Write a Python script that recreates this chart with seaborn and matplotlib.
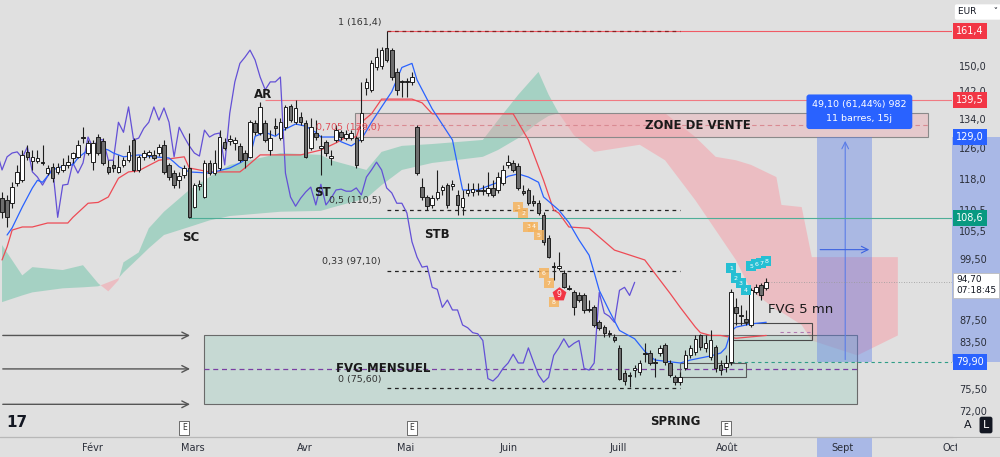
import numpy as np
import pandas as pd
import seaborn as sns
import matplotlib
matplotlib.use("Agg")
from matplotlib import pyplot as plt
from matplotlib.patches import Rectangle
from matplotlib.ticker import NullLocator

# daily candles, bar index = position in the list
opens = [113.2, 112.7, 112.0, 116.9, 117.6, 124.9, 122.5, 122.5, 122.2, 119.4,
         121.0, 119.7, 120.2, 121.5, 123.3, 123.6, 128.9, 124.6, 122.2, 128.9,
         127.8, 121.0, 121.5, 119.7, 121.5, 122.7, 128.1, 120.2, 123.6, 124.1,
         124.1, 124.6, 126.8, 121.5, 119.4, 117.6, 118.9, 120.7, 111.1, 116.2,
         113.5, 122.0, 119.4, 120.7, 127.6, 127.8, 127.3, 126.5, 124.6, 123.6,
         132.8, 129.9, 132.8, 125.4, 131.9, 128.6, 131.6, 137.7, 133.0, 134.5,
         132.8, 125.9, 130.0, 126.0, 127.6, 123.3, 128.1, 130.2, 128.6, 128.6,
         128.6, 128.1, 143.1, 142.5, 149.4, 150.0, 155.7, 155.0, 148.0, 145.2,
         145.2, 144.9, 131.6, 115.9, 113.5, 111.6, 113.2, 115.2, 116.4, 116.2,
         114.0, 111.1, 114.5, 114.7, 115.2, 115.2, 114.5, 115.7, 115.2, 116.9,
         121.5, 122.0, 121.2, 114.9, 115.2, 112.5, 112.0, 109.2, 104.1, 98.0,
         97.6, 96.5, 93.5, 92.7, 92.1, 92.1, 89.5, 89.8, 87.0, 86.1,
         85.1, 84.4, 82.4, 78.1, 77.8, 78.6, 78.3, 81.5, 81.5, 80.0,
         81.5, 82.9, 79.8, 77.4, 76.6, 78.9, 81.1, 81.7, 84.6, 82.4,
         80.8, 82.5, 79.4, 79.1, 80.0, 89.8, 88.3, 87.6, 86.5, 92.7,
         94.1, 93.5]
highs = [114.7, 114.0, 117.1, 121.5, 125.4, 126.8, 125.4, 125.4, 126.8, 121.5,
         122.0, 122.0, 123.3, 124.1, 124.9, 128.1, 131.6, 128.1, 128.1, 129.7,
         128.6, 122.7, 122.7, 124.1, 123.6, 126.8, 128.6, 124.1, 125.4, 125.4,
         125.4, 127.0, 128.1, 122.0, 120.2, 119.7, 121.5, 129.9, 116.9, 117.6,
         122.7, 122.7, 125.4, 130.8, 128.6, 129.4, 128.9, 127.3, 125.4, 133.6,
         133.6, 138.8, 133.6, 130.8, 134.2, 134.2, 138.0, 138.3, 139.4, 136.0,
         133.6, 134.2, 133.6, 129.4, 128.1, 125.4, 132.2, 130.8, 130.8, 130.8,
         129.1, 144.9, 146.1, 151.8, 155.7, 156.0, 161.4, 155.7, 149.3, 145.5,
         146.1, 148.0, 132.2, 118.1, 114.0, 114.0, 120.2, 116.4, 116.9, 117.6,
         115.2, 115.2, 116.9, 116.9, 116.9, 116.4, 119.7, 117.6, 119.7, 121.5,
         124.1, 122.7, 122.0, 116.4, 115.7, 114.0, 112.7, 109.9, 104.7, 98.8,
         101.0, 97.2, 94.1, 93.1, 92.7, 92.5, 91.2, 90.2, 87.4, 86.5,
         85.5, 84.8, 82.9, 78.6, 78.3, 79.4, 80.3, 83.2, 82.0, 80.6,
         82.9, 83.2, 80.3, 77.8, 78.3, 82.0, 82.9, 84.6, 84.9, 84.6,
         85.5, 82.9, 80.3, 81.1, 93.3, 91.6, 90.2, 89.3, 93.5, 94.3,
         94.5, 95.5]
lows = [108.5, 106.5, 110.9, 116.2, 117.1, 122.7, 120.2, 122.0, 121.5, 118.9,
        117.1, 119.2, 119.7, 120.7, 122.0, 123.3, 127.3, 124.1, 120.2, 124.1,
        121.5, 119.2, 119.7, 119.4, 121.0, 122.2, 119.7, 119.7, 122.7, 123.3,
        122.7, 123.8, 119.2, 117.6, 115.7, 115.7, 118.1, 108.5, 110.9, 115.2,
        113.2, 118.9, 118.9, 120.2, 125.4, 126.8, 125.4, 122.2, 120.7, 123.3,
        129.4, 129.4, 127.6, 124.1, 129.4, 128.1, 130.8, 133.0, 132.5, 132.2,
        123.3, 125.4, 128.1, 118.9, 123.8, 121.5, 127.6, 128.1, 128.1, 128.1,
        120.7, 127.6, 141.0, 141.9, 148.6, 149.0, 151.1, 145.5, 141.0, 140.4,
        140.4, 144.0, 118.9, 112.7, 110.4, 110.9, 112.7, 114.0, 110.9, 115.2,
        109.2, 109.2, 113.7, 113.7, 114.0, 114.0, 113.7, 113.5, 114.5, 116.4,
        120.7, 119.7, 115.2, 114.0, 111.6, 111.3, 109.2, 102.5, 99.7, 95.1,
        97.2, 93.5, 93.1, 88.3, 90.8, 88.7, 88.9, 86.1, 85.5, 84.4,
        84.4, 83.4, 76.9, 76.1, 75.8, 77.4, 77.8, 80.0, 79.4, 77.4,
        81.0, 79.4, 77.4, 76.1, 76.1, 78.6, 80.6, 81.1, 82.0, 81.7,
        80.3, 78.3, 77.8, 78.3, 79.4, 86.5, 86.5, 86.5, 86.1, 92.3,
        91.2, 93.1]
closes = [110.0, 108.7, 115.9, 119.7, 124.1, 123.6, 123.6, 123.3, 122.0, 120.7,
          118.1, 121.0, 121.5, 122.2, 124.6, 126.8, 128.6, 127.3, 127.3, 124.6,
          122.0, 119.7, 120.7, 121.0, 122.7, 124.9, 120.2, 123.6, 124.6, 124.9,
          123.3, 126.2, 119.7, 118.4, 116.4, 118.6, 120.7, 108.7, 116.4, 116.6,
          122.0, 119.4, 122.0, 128.9, 125.9, 128.3, 128.1, 122.7, 122.7, 133.0,
          130.2, 137.4, 128.1, 128.6, 131.3, 133.0, 137.4, 133.6, 137.1, 133.0,
          123.6, 131.6, 128.9, 126.5, 124.6, 123.8, 130.8, 128.9, 129.7, 130.0,
          121.5, 135.6, 144.9, 150.7, 152.7, 155.0, 151.8, 146.4, 142.5, 144.9,
          144.9, 146.4, 119.4, 113.5, 111.3, 113.2, 114.7, 115.9, 111.6, 116.6,
          111.6, 113.2, 115.2, 115.4, 114.9, 114.9, 115.7, 114.0, 118.4, 120.2,
          122.2, 120.2, 115.7, 114.5, 112.0, 112.0, 109.7, 103.2, 99.9, 97.8,
          98.0, 93.7, 93.3, 89.8, 91.2, 89.3, 89.3, 86.5, 86.0, 85.1,
          84.9, 83.7, 77.2, 76.8, 77.6, 78.9, 79.8, 81.3, 79.8, 79.8,
          82.4, 80.0, 77.8, 76.6, 77.4, 81.1, 82.4, 84.0, 82.5, 83.2,
          83.7, 78.9, 78.6, 79.8, 92.7, 88.7, 88.1, 87.0, 93.1, 93.7,
          92.1, 94.7]

# ichimoku lines
tenkan_x = [1, 2, 4, 6, 7, 8, 10, 11, 13, 14, 15, 17, 19, 21, 22, 24, 27, 30, 33, 34,
            35, 37, 41, 45, 47, 49, 50, 52, 54, 56, 58, 60, 62, 63, 66, 67, 69, 71, 73, 75,
            77, 79, 81, 82, 85, 89, 91, 94, 98, 100, 102, 104, 106, 107, 110, 112, 114, 116, 117, 118,
            120, 122, 125, 127, 129, 131, 134, 136, 140, 142, 143, 144, 145, 148, 151]
tenkan_y = [104.7, 106.3, 111.1, 115.7, 117.6, 117.1, 120.2, 120.7, 121.5, 121.5,
            123.3, 125.4, 126.2, 125.4, 124.6, 123.6, 124.1, 123.6, 123.3, 122.2,
            121.0, 119.7, 119.4, 120.7, 122.0, 123.6, 129.1, 130.2, 129.1, 131.1,
            132.5, 131.9, 130.2, 128.9, 128.9, 127.6, 126.5, 128.3, 133.0, 137.4,
            141.9, 149.4, 150.7, 145.5, 136.8, 128.1, 115.2, 115.2, 117.1, 118.6,
            119.2, 118.4, 117.1, 113.5, 110.4, 107.5, 103.6, 100.3, 96.7, 93.1,
            89.1, 85.5, 84.0, 81.8, 80.3, 80.1, 79.8, 80.3, 81.0, 81.5,
            82.4, 85.3, 86.1, 86.7, 87.0]
kijun_x = [0, 1, 2, 4, 6, 9, 13, 14, 17, 19, 21, 23, 25, 27, 31, 36, 37, 41, 47, 48,
           51, 59, 63, 66, 68, 70, 71, 73, 75, 81, 83, 85, 101, 104, 107, 109, 110, 112, 116, 121,
           123, 127, 129, 132, 134, 137, 138, 140, 142, 145, 151]
kijun_y = [99.3, 102.1, 105.8, 106.5, 106.5, 107.4, 107.4, 108.7, 112.0, 112.2,
           113.5, 118.1, 119.7, 120.0, 122.7, 123.6, 120.7, 119.7, 119.7, 120.7,
           124.1, 124.1, 125.4, 127.3, 128.9, 128.9, 133.0, 135.4, 139.7, 139.7,
           138.6, 135.4, 135.4, 128.1, 117.6, 110.4, 109.7, 106.5, 106.2, 101.4,
           100.7, 99.3, 96.5, 92.5, 89.8, 86.1, 85.1, 84.6, 84.6, 84.1, 84.6]
cloud_x = [0, 4, 6, 12, 16, 19, 21, 23, 24, 27, 29, 32, 37, 41, 45, 52, 55, 63, 65, 72,
           75, 79, 85, 95, 98, 102, 106, 108, 110, 113, 117, 126, 131, 137, 141, 145, 148, 153, 154, 158,
           160, 169, 177]
span_a = [102.5, 96.1, 97.8, 97.2, 98.2, 94.5, 92.9, 95.1, 98.8, 100.9,
          106.2, 110.0, 115.2, 118.4, 121.5, 123.6, 124.6, 124.1, 122.7, 120.2,
          124.9, 126.5, 127.0, 128.1, 133.6, 141.0, 148.0, 141.0, 135.6, 129.4,
          124.9, 126.8, 122.7, 112.7, 105.8, 99.3, 93.1, 89.3, 88.9, 86.5,
          83.7, 81.1, 84.6]
span_b = [90.8, 92.1, 92.7, 93.5, 93.7, 93.9, 94.7, 95.5, 96.7, 99.7,
          101.8, 104.7, 106.5, 108.0, 109.0, 109.7, 110.0, 110.2, 110.9, 113.2,
          116.4, 120.2, 122.0, 123.6, 125.4, 128.6, 133.0, 134.8, 135.6, 135.6,
          135.6, 135.6, 135.6, 128.9, 123.6, 122.7, 121.5, 118.4, 111.6, 111.1,
          99.9, 99.9, 99.9]

# td sequential counts
td_sell_bars = [102, 103, 104, 105, 106, 107, 108, 109, 110]
td_sell_pos = [111.1, 109.7, 106.5, 106.5, 104.7, 96.5, 94.5, 90.8, 92.3]
td_buy_bars = [144, 145, 146, 147, 148, 149, 150, 151]
td_buy_pos = [97.6, 95.5, 94.5, 93.1, 98.0, 98.4, 98.6, 99.0]
earnings_bars = [36, 81, 143]

fib_levels = [161.4, 110.5, 97.1, 75.6]
fib_labels = ['1 (161,4)', '0,5 (110,5)', '0,33 (97,10)', '0 (75,60)']

month_pos = [17.8, 37.7, 59.9, 79.8, 100.0, 121.7, 143.3, 166.0, 187.4]
month_labels = ['Févr', 'Mars', 'Avr', 'Mai', 'Juin', 'Juill', 'Août', 'Sept', 'Oct']

price_ticks = [150, 142, 134, 126, 118, 110.5, 105.5, 99.5, 87.5, 83.5, 75.5, 72]
price_labels = ['150,0', '142,0', '134,0', '126,0', '118,0', '110,5', '105,5',
                '99,50', '87,50', '83,50', '75,50', '72,00']

BG = '#e0e0e0'
sns.set_theme(style="white")
plt.rcParams['font.family'] = ['DejaVu Sans']

fig = plt.figure(figsize=(10, 4.57), dpi=100, facecolor=BG)
ax = fig.add_axes([0, 20 / 457, 0.952, 437 / 457])
ax.set_facecolor(BG)
ax.set_yscale('log')

df = pd.DataFrame({'o': opens, 'h': highs, 'l': lows, 'c': closes})
df['bar'] = np.arange(len(df))

# cloud
ca = np.array(span_a); cb = np.array(span_b)
ax.fill_between(cloud_x, ca, cb, where=ca >= cb, interpolate=True,
                color='#5fbfa0', alpha=0.45, lw=0, zorder=1)
ax.fill_between(cloud_x, ca, cb, where=ca < cb, interpolate=True,
                color='#f4a6ae', alpha=0.6, lw=0, zorder=1)

# zones
ax.add_patch(Rectangle((69.8, 128.9), 183.0 - 69.8, 135.6 - 128.9, fc='#f0a0a8', alpha=0.35,
                       ec='none', zorder=1.2))
ax.add_patch(Rectangle((69.8, 128.9), 183.0 - 69.8, 135.6 - 128.9, fill=False,
                       ec='#8a8a8a', lw=0.8, zorder=1.3))
ax.hlines(132.2, 69.8, 183.0, colors='#d98a92', lw=0.8, linestyles=(0, (4, 3)), zorder=1.4)

ax.add_patch(Rectangle((39.9, 73.1), 168.9 - 39.9, 84.6 - 73.1, fc='#9fcfc0', alpha=0.4,
                       ec='none', zorder=1.2))
ax.add_patch(Rectangle((39.9, 73.1), 168.9 - 39.9, 84.6 - 73.1, fill=False,
                       ec='#6a6a6a', lw=0.8, zorder=1.3))
ax.hlines(78.8, 39.9, 168.9, colors='#7a3fa3', lw=0.9, linestyles=(0, (4, 3)), zorder=1.4)
for lvl in [84.6, 78.8, 73.1]:
    ax.annotate('', xy=(37.7, lvl), xytext=(-0.4, lvl),
                arrowprops=dict(arrowstyle='->', color='#555555', lw=1.0), zorder=2)

# position tool
ax.add_patch(Rectangle((161.1, 79.9), 171.9 - 161.1, 129.0 - 79.9, fc='#5b7de8', alpha=0.4,
                       ec='none', zorder=1.5))
ax.annotate('', xy=(166.6, 128.6), xytext=(166.6, 79.9),
            arrowprops=dict(arrowstyle='->', color='#5b7de8', lw=0.8), zorder=2)
ax.annotate('', xy=(171.9, 101.5), xytext=(161.1, 101.5),
            arrowprops=dict(arrowstyle='->', color='#3d63e0', lw=0.8), zorder=2)
ax.text(169.4, 136.0, '49,10 (61,44%) 982\n11 barres, 15j', ha='center', va='center',
        fontsize=6.8, color='white', linespacing=1.75, zorder=9,
        bbox=dict(boxstyle='round,pad=0.6,rounding_size=0.3', fc='#2962ff', ec='none'))

# small fvg boxes
ax.add_patch(Rectangle((144.5, 83.7), 160.1 - 144.5, 86.9 - 83.7, fill=False,
                       ec='#4a4a4a', lw=0.8, zorder=2))
ax.hlines(85.3, 153.8, 160.1, colors='#b07ab0', lw=0.8, linestyles=(0, (3, 3)), zorder=2)
ax.add_patch(Rectangle((134.0, 77.4), 147.0 - 134.0, 79.8 - 77.4, fill=False,
                       ec='#5a5a5a', lw=0.8, zorder=2))

# horizontal levels
x_right = 187.7
ax.hlines(161.4, 76, x_right, colors='#f05a64', lw=0.8, zorder=2)
ax.hlines(139.5, 52, x_right, colors='#f07a82', lw=0.8, zorder=2)
ax.hlines(108.6, 37, x_right, colors='#4fae98', lw=0.8, zorder=2)
ax.hlines(79.9, 144, x_right, colors='#2f9d87', lw=0.8, linestyles=(0, (3, 3)), zorder=2)
ax.hlines(94.7, 151, x_right, colors='#9a9a9a', lw=0.6, linestyles=(0, (1, 2)), zorder=2)
for lvl, lab in zip(fib_levels, fib_labels):
    col = '#8b2020' if lvl == 161.4 else '#222222'
    ax.hlines(lvl, 76, 134, colors=col, lw=0.9, linestyles=(0, (3, 3)), zorder=2.5)
    ax.text(74.9, lvl * 1.009, lab, ha='right', va='bottom',
            fontsize=6.8, color='#333333', zorder=8)
ax.text(74.7, 131.6, '0,705 (129,0)', ha='right', va='center', fontsize=6.8,
        color='#e0505a', zorder=8)

# ichimoku lines
sns.lineplot(x=df['bar'] - 26, y=df['c'], ax=ax, color='#6350d6', lw=0.9, zorder=3)
sns.lineplot(x=tenkan_x, y=tenkan_y, ax=ax, color='#2962ff', lw=0.9, zorder=3.2)
sns.lineplot(x=kijun_x, y=kijun_y, ax=ax, color='#ee4b55', lw=0.9,
             estimator=None, sort=False, zorder=3.1)

# candles
up = df[df.c >= df.o]
dn = df[df.c < df.o]
ax.vlines(df.bar, df.l, df.h, color='#1e1e1e', lw=0.8, zorder=5)
ax.bar(up.bar, up.c - up.o, bottom=up.o, width=0.7, color='white',
       edgecolor='#1e1e1e', lw=0.7, zorder=6)
ax.bar(dn.bar, dn.o - dn.c, bottom=dn.c, width=0.7, color='#6e6e6e',
       edgecolor='#1e1e1e', lw=0.7, zorder=6)

# td counts
ax.scatter(td_sell_bars[:-1], td_sell_pos[:-1], marker='s', s=58, color='#f6b45e',
           alpha=0.85, lw=0, zorder=7)
ax.scatter(td_sell_bars[-1:], td_sell_pos[-1:], marker='p', s=110, color='#f23645', lw=0, zorder=7)
for k, (b, p) in enumerate(zip(td_sell_bars, td_sell_pos)):
    ax.text(b, p, str(k + 1), ha='center', va='center', fontsize=4.5 if k < 8 else 5.5,
            color='white', zorder=8)
ax.scatter(td_buy_bars, td_buy_pos, marker='s', s=55, color='#25bfd3', lw=0, zorder=7)
for k, (b, p) in enumerate(zip(td_buy_bars, td_buy_pos)):
    ax.text(b, p, str(k + 1), ha='center', va='center', fontsize=4.5, color='white', zorder=8)

# labels
bold = dict(fontsize=8.5, fontweight='bold', color='#1a1a1a', ha='center', va='center', zorder=8)
ax.text(51.6, 141.0, 'AR', **bold)
ax.text(63.4, 114.7, 'ST', **bold)
ax.text(37.2, 104.2, 'SC', **bold)
ax.text(86.0, 104.9, 'STB', **bold)
ax.text(133.0, 70.5, 'SPRING', **bold)
ax.text(137.4, 132.2, 'ZONE DE VENTE', **bold)
ax.text(75.3, 78.8, 'FVG MENSUEL', **bold)
ax.text(151.4, 89.3, 'FVG 5 mn', fontsize=9.5, color='#1a1a1a', ha='left', va='center', zorder=8)

for b in earnings_bars:
    ax.text(b, 0.0206, 'E', transform=ax.get_xaxis_transform(), ha='center', va='center',
            fontsize=5.5, color='#333333', zorder=8,
            bbox=dict(boxstyle='square,pad=0.35', fc='white', ec='#555555', lw=0.6))
ax.text(0.018, 0.034, '17', transform=ax.transAxes, fontsize=11, fontweight='heavy',
        color='#131722', ha='center', va='center')

# axes
ax.set_xlim(-0.4, x_right)
ax.set_ylim(68.2, 172.4)
ax.set_xlabel('')
ax.set_ylabel('')
ax.yaxis.tick_right()
ax.set_yticks(price_ticks)
ax.set_yticklabels(price_labels)
ax.yaxis.set_minor_locator(NullLocator())
ax.tick_params(axis='y', length=0, pad=5, labelsize=7, colors='#2a2e39')
ax.set_xticks(month_pos)
ax.set_xticklabels(month_labels)
ax.tick_params(axis='x', length=0, pad=4, labelsize=7, colors='#2a2e39')
for s in ['top', 'left', 'right']:
    ax.spines[s].set_visible(False)
ax.spines['bottom'].set_color('#b8b8b8')
ax.spines['bottom'].set_linewidth(0.8)

# date range / price range highlight on the scales
ax.add_patch(Rectangle((161.1, -20 / 437), 171.9 - 161.1, 20 / 437,
                       transform=ax.get_xaxis_transform(), fc='#a9b8e6', ec='none',
                       clip_on=False, zorder=0.5))
ax.add_patch(Rectangle((1.0, 79.9), 0.06, 129.0 - 79.9, transform=ax.get_yaxis_transform(),
                       fc='#a9b8e6', ec='none', clip_on=False, zorder=0.5))

# price badges
badges = [(161.4, '161,4', '#f23645'), (139.5, '139,5', '#f23645'), (129.0, '129,0', '#2962ff'),
          (108.6, '108,6', '#089981'), (79.9, '79,90', '#2962ff')]
for val, txt, col in badges:
    ax.annotate(txt, xy=(1, val), xycoords=ax.get_yaxis_transform(), xytext=(3, 0),
                textcoords='offset points', ha='left', va='center', fontsize=7, color='white',
                bbox=dict(boxstyle='square,pad=0.3', fc=col, ec='none'),
                annotation_clip=False, zorder=10)
ax.annotate('94,70\n07:18:45', xy=(1, 94.7), xycoords=ax.get_yaxis_transform(), xytext=(3, 5),
            textcoords='offset points', ha='left', va='top', fontsize=6.5, color='#131722',
            linespacing=1.3, bbox=dict(boxstyle='square,pad=0.3', fc='white', ec='#bdbdbd', lw=0.6),
            annotation_clip=False, zorder=10)

# cover the cut month label past the chart edge
fig.patches.append(Rectangle((0.957, 0), 0.043, 19 / 457, transform=fig.transFigure,
                             fc=BG, ec='none', zorder=5))
fig.lines.append(plt.Line2D([0, 1], [20 / 457, 20 / 457], transform=fig.transFigure,
                            color='#b8b8b8', lw=0.8))
fig.text(0.958, 1 - 12 / 457, 'EUR      ˅', fontsize=6.5, color='#131722', va='center',
         bbox=dict(boxstyle='round,pad=0.35,rounding_size=0.2', fc='white', ec='none'))
fig.text(0.968, 1 - 425 / 457, 'A', fontsize=8, color='#131722', ha='center', va='center')
fig.text(0.986, 1 - 425 / 457, 'L', fontsize=8, color='white', ha='center', va='center',
         bbox=dict(boxstyle='round,pad=0.3,rounding_size=0.2', fc='#131722', ec='none'))

fig.savefig('out.png', dpi=100, facecolor=BG)
